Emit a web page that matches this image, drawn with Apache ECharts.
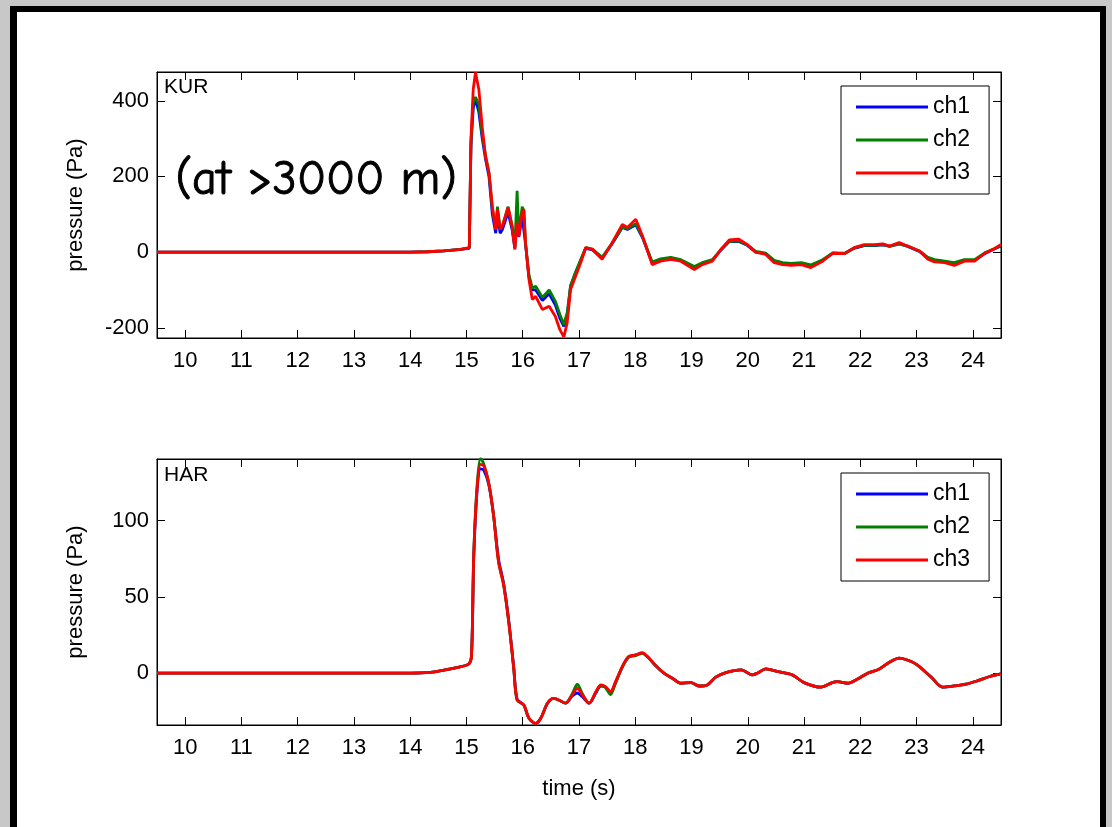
<!DOCTYPE html>
<html>
<head>
<meta charset="utf-8">
<script src="https://cdn.jsdelivr.net/npm/echarts@6/dist/echarts.min.js"></script>
<style>
  html, body { margin:0; padding:0; width:1112px; height:827px; overflow:hidden; background:#c8c8c8; }
  #frame { position:absolute; left:10px; top:6px; width:1083px; height:900px; background:#fff;
           border-left:7px solid #000; border-top:6px solid #000; border-right:6px solid #000; }
  #chart { position:absolute; left:0; top:0; width:1112px; height:827px; }
</style>
</head>
<body>
<div id="frame"></div>
<div id="chart"></div>
<script>
// ---------- data ----------
const xTicks = [10, 11, 12, 13, 14, 15, 16, 17, 18, 19, 20, 21, 22, 23, 24];
const kurYTicks = [-200, 0, 200, 400];
const harYTicks = [0, 50, 100];
const seriesNames = ['ch1', 'ch2', 'ch3'];

// KUR (time in s, pressure in Pa)
const kurT = [9.5, 12.0, 14.0, 14.3, 14.6, 14.9, 15.05, 15.08, 15.12, 15.16, 15.22, 15.28, 15.34, 15.40, 15.46,
  15.52, 15.55, 15.60, 15.64, 15.74, 15.81, 15.86, 15.90, 15.93, 15.99, 16.02, 16.05, 16.11, 16.17, 16.23,
  16.35, 16.47, 16.58, 16.66, 16.73, 16.79, 16.85, 16.94, 17.03, 17.12, 17.24, 17.41, 17.59, 17.77, 17.86,
  18.01, 18.13, 18.30, 18.45, 18.63, 18.81, 19.05, 19.19, 19.37, 19.52, 19.67, 19.84, 19.99, 20.14, 20.32,
  20.47, 20.62, 20.77, 20.95, 21.12, 21.33, 21.51, 21.72, 21.89, 22.07, 22.25, 22.40, 22.52, 22.69, 22.84,
  23.05, 23.20, 23.32, 23.50, 23.67, 23.85, 24.03, 24.21, 24.38, 24.50];
const kurCh1 = [0, 0, 0, 1, 3, 7, 10, 280, 380, 405, 370, 300, 245, 200, 100,
  50, 95, 50, 60, 105, 60, 10, 95, 40, 95, 100, 20, -65, -100, -100,
  -128, -110, -140, -175, -196, -170, -90, -55, -22, 10, 6, -16, 22, 65, 60,
  72, 38, -28, -20, -16, -22, -40, -30, -22, 5, 28, 28, 18, 0, -4,
  -24, -30, -32, -30, -36, -22, -3, -4, 10, 17, 17, 19, 15, 22, 15,
  2, -16, -22, -25, -30, -22, -22, -4, 8, 16];
const kurCh2 = [0, 0, 0, 1, 3, 7, 11, 290, 395, 410, 390, 310, 255, 210, 115,
  60, 120, 60, 70, 120, 70, 15, 162, 45, 120, 110, 22, -60, -95, -90,
  -120, -100, -130, -165, -191, -160, -88, -52, -20, 12, 8, -14, 24, 66, 62,
  75, 40, -26, -18, -14, -20, -38, -28, -20, 6, 28, 30, 19, 2, -3,
  -22, -28, -30, -28, -34, -20, -2, -3, 11, 18, 18, 20, 16, 22, 16,
  3, -14, -20, -24, -28, -20, -20, -2, 9, 17];
const kurCh3 = [0, 0, 0, 1, 3, 7, 12, 300, 430, 475, 430, 330, 250, 210, 120,
  60, 113, 60, 69, 118, 69, 7, 78, 42, 104, 113, 25, -72, -125, -117,
  -152, -143, -170, -205, -224, -187, -99, -64, -28, 12, 7, -19, 25, 73, 65,
  87, 42, -33, -24, -19, -24, -46, -33, -24, 7, 32, 34, 20, 0, -6,
  -28, -33, -35, -33, -41, -24, -3, -4, 12, 20, 20, 22, 16, 25, 16,
  3, -19, -26, -28, -35, -24, -24, -3, 9, 20];

// HAR (time in s, pressure in Pa)
const harT = [9.5, 12.0, 14.0, 14.36, 14.6, 14.8, 15.04, 15.09, 15.13, 15.19, 15.25, 15.31, 15.40, 15.48, 15.57,
  15.66, 15.75, 15.84, 15.90, 16.02, 16.11, 16.23, 16.32, 16.44, 16.55, 16.64, 16.76, 16.88, 16.97, 17.06,
  17.18, 17.30, 17.39, 17.47, 17.56, 17.65, 17.77, 17.88, 18.01, 18.12, 18.24, 18.36, 18.51, 18.66, 18.81,
  18.99, 19.13, 19.28, 19.43, 19.61, 19.88, 20.08, 20.17, 20.32, 20.53, 20.79, 21.00, 21.30, 21.50, 21.59,
  21.77, 21.95, 22.13, 22.33, 22.51, 22.69, 22.86, 23.01, 23.26, 23.46, 23.67, 23.88, 24.09, 24.30, 24.50];
const harCh1 = [0, 0, 0, 0.5, 2, 3.5, 6, 12, 76, 120, 134, 133, 123, 104, 75,
  59, 35, 4, -17, -21, -29.6, -33, -29.6, -19.7, -16.5, -17.6, -19.7, -15, -13, -15.5,
  -19.7, -13, -8.5, -9, -12.5, -6, 4, 10.5, 12, 13.2, 10, 5, 0, -3.3, -6.6,
  -6.2, -8.4, -7.7, -2.6, 0.4, 2.2, -1.1, 0, 2.8, 1.1, -1.1, -6.2, -9.2, -6.2, -5.5,
  -6.6, -3.9, 0, 2.6, 7, 9.9, 8.3, 5.5, -2.6, -9.2, -8.4, -7.2, -4.9, -2.2, -0.5];
const harCh2 = [0, 0, 0, 0.5, 2, 3.5, 6, 12, 79, 124, 141, 137, 124, 104, 73,
  58, 34, 3, -17.6, -20.9, -29.6, -33, -29.6, -19.7, -16.5, -17.6, -19.7, -13.5, -7.2, -13.5,
  -19.7, -12.5, -8, -9.5, -14, -6.5, 4, 10.5, 11.5, 13, 10, 5, 0, -3.3, -6.6,
  -6.2, -8.4, -7.7, -2.6, 0.4, 2.2, -1.1, 0, 2.8, 1.1, -1.1, -6.2, -9.2, -6.2, -5.5,
  -6.6, -3.9, 0, 2.6, 7, 9.9, 8.3, 5.5, -2.6, -9.2, -8.4, -7.2, -4.9, -2.2, -0.5];
const harCh3 = [0, 0, 0, 0.5, 2, 3.5, 6, 12, 78, 122, 137, 136, 124, 104, 73,
  58, 34, 3.3, -17.6, -20.9, -29.6, -33, -29.6, -19.7, -16.5, -17.6, -19.7, -14.3, -9.9, -14.3,
  -19.7, -12.1, -7.7, -8.8, -12.1, -5.5, 4.4, 10.9, 12, 13.4, 10, 5, 0, -3.3, -6.6,
  -6.2, -8.4, -7.7, -2.6, 0.4, 2.2, -1.1, 0, 2.8, 1.1, -1.1, -6.2, -9.2, -6.2, -5.5,
  -6.6, -3.9, 0, 2.6, 7, 9.9, 8.3, 5.5, -2.6, -9.2, -8.4, -7.2, -4.9, -2.2, -0.5];

// ---------- chart ----------
const FONT = "'Liberation Sans', Arial, Helvetica, sans-serif";
const colors = ['#0000ff', '#008000', '#ff0000'];
const pair = (t, v) => t.map((x, i) => [x, v[i]]);

const grids = [
  { left: 157, top: 72, width: 844, height: 266 },
  { left: 157, top: 459, width: 844, height: 266 }
];

function xAxisFor(gi, pos, labels) {
  return {
    type: 'value', gridIndex: gi, position: pos, min: 9.5, max: 24.5,
    axisLine: { show: true, onZero: false, lineStyle: { color: '#000', width: 1 } },
    axisTick: { show: true, inside: true, length: 8, customValues: xTicks, lineStyle: { color: '#000' } },
    axisLabel: { show: labels, customValues: xTicks, margin: 12, color: '#000', fontSize: 22, fontFamily: FONT },
    splitLine: { show: false }
  };
}
function yAxisFor(gi, pos, labels, min, max, ticks) {
  return {
    type: 'value', gridIndex: gi, position: pos, min: min, max: max,
    axisLine: { show: true, onZero: false, lineStyle: { color: '#000', width: 1 } },
    axisTick: { show: true, inside: true, length: 8, customValues: ticks, lineStyle: { color: '#000' } },
    axisLabel: { show: labels, customValues: ticks, margin: 8, color: '#000', fontSize: 22, fontFamily: FONT },
    splitLine: { show: false },
    name: labels ? 'pressure (Pa)' : '', nameLocation: 'middle', nameGap: 70,
    nameTextStyle: { color: '#000', fontSize: 22, fontFamily: FONT }
  };
}

const xAxes = [xAxisFor(0, 'bottom', true), xAxisFor(1, 'bottom', true), xAxisFor(0, 'top', false), xAxisFor(1, 'top', false)];
xAxes[1].name = 'time (s)';
xAxes[1].nameLocation = 'middle';
xAxes[1].nameGap = 53;
xAxes[1].nameTextStyle = { color: '#000', fontSize: 22, fontFamily: FONT };

const yAxes = [
  yAxisFor(0, 'left', true, -227, 476, kurYTicks),
  yAxisFor(1, 'left', true, -34, 140.5, harYTicks),
  yAxisFor(0, 'right', false, -227, 476, kurYTicks),
  yAxisFor(1, 'right', false, -34, 140.5, harYTicks)
];

const kurData = [kurCh1, kurCh2, kurCh3];
const harData = [harCh1, harCh2, harCh3];
const series = [];
seriesNames.forEach((n, i) => {
  series.push({ name: n, type: 'line', xAxisIndex: 0, yAxisIndex: 0, data: pair(kurT, kurData[i]),
    showSymbol: false, symbol: 'none', color: colors[i], lineStyle: { width: 2.8, color: colors[i] }, z: 2 + i, animation: false });
});
seriesNames.forEach((n, i) => {
  series.push({ name: n, type: 'line', xAxisIndex: 1, yAxisIndex: 1, data: pair(harT, harData[i]),
    showSymbol: false, symbol: 'none', smooth: 0.3, color: colors[i], lineStyle: { width: 2.8, color: colors[i] }, z: 2 + i, animation: false });
});

function legendAt(top) {
  return {
    data: seriesNames, orient: 'vertical', left: 841, top: top,
    icon: 'rect', itemWidth: 72, itemHeight: 3, itemGap: 9,
    padding: [9, 19, 9, 15],
    backgroundColor: '#fff', borderColor: '#000', borderWidth: 1, borderRadius: 0,
    textStyle: { color: '#000', fontSize: 23, fontFamily: FONT, lineHeight: 24 },
    selectedMode: false, z: 10
  };
}

const chart = echarts.init(document.getElementById('chart'), null, { renderer: 'canvas' });
chart.setOption({
  backgroundColor: 'transparent',
  animation: false,
  grid: grids.map(g => Object.assign({ show: true, borderColor: '#000', borderWidth: 1, backgroundColor: 'transparent' }, g)),
  xAxis: xAxes,
  yAxis: yAxes,
  legend: [legendAt(86), legendAt(473)],
  series: series,
  graphic: [
    { type: 'text', left: 164, top: 77, z: 20, style: { text: 'KUR', fill: '#000', font: '21px ' + FONT } },
    { type: 'text', left: 164, top: 465, z: 20, style: { text: 'HAR', fill: '#000', font: '21px ' + FONT } },
    { type: 'text', left: 175, top: 156, z: 20, style: { text: '(at >3000 m)', fill: '#000',
      stroke: '#000', lineWidth: 1,
      font: "48px 'Comic Sans MS', 'Comic Neue', 'DejaVu Sans', sans-serif" } }
  ]
});
</script>
</body>
</html>
